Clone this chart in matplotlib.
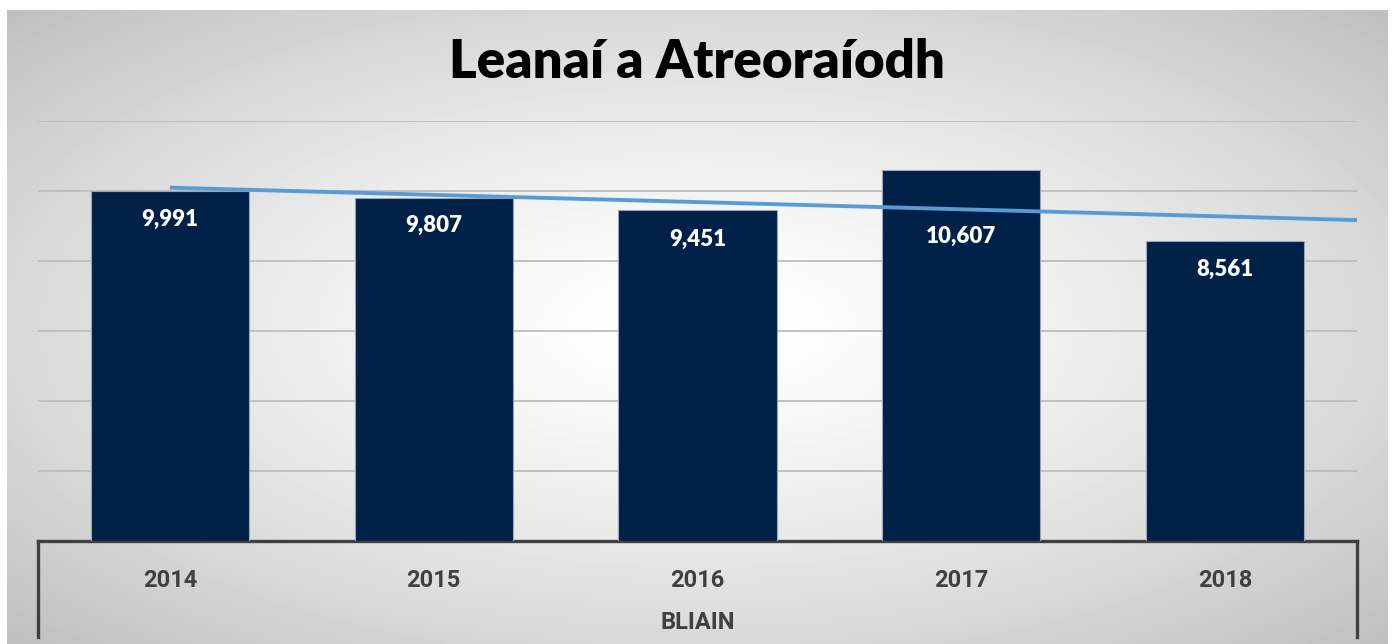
import numpy as np
import matplotlib
matplotlib.use("Agg")
import matplotlib.pyplot as plt
import matplotlib.transforms as mtransforms

# data
years = ["2014", "2015", "2016", "2017", "2018"]
referrals = [9991, 9807, 9451, 10607, 8561]
title = "Leanaí a Atreoraíodh"
xlabel = "BLIAIN"

W, H = 1392, 644
fig = plt.figure(figsize=(W / 100, H / 100), dpi=100)
fig.patch.set_facecolor("white")

# radial grey background of the chart area
bg = fig.add_axes([7 / W, 0, (1388 - 7) / W, 1 - 10 / H], zorder=0)
gx, gy = np.meshgrid(np.linspace(-1, 1, 400), np.linspace(-1, 1, 200))
r = np.sqrt(gx ** 2 + gy ** 2) / np.sqrt(2)
shade = 1.0 - 0.25 * r ** 1.4
bg.imshow(shade, cmap="gray", vmin=0, vmax=1, aspect="auto",
          extent=[0, 1, 0, 1], interpolation="bicubic")
bg.set_axis_off()

ax = fig.add_axes([38 / W, 1 - 541 / H, (1357 - 38) / W, (541 - 121) / H], zorder=1)
ax.patch.set_alpha(0)

x = np.arange(len(years))
bars = ax.bar(x, referrals, width=0.6, color="#002147", edgecolor="#9aa6b8",
              linewidth=0.8, zorder=3)

# labels sit inside the bar top; the 2017 one was pushed down below the trendline
label_drop = [20, 20, 21, 48, 20]
for xi, v, d in zip(x, referrals, label_drop):
    ax.annotate(f"{v:,}", (xi, v), xytext=(0, -d), textcoords="offset points",
                ha="center", va="center", color="white", fontsize=16,
                fontweight="heavy", family="Lato", zorder=5)

# linear trendline, extended half a period forward
k, b = np.polyfit(x, referrals, 1)
tx = np.array([x[0], x[-1] + 0.5])
ax.plot(tx, k * tx + b, color="#5b9bd5", lw=2.8, zorder=4, solid_capstyle="butt")

ax.set_xlim(-0.5, len(years) - 0.5)
ax.set_ylim(0, 12000)
ax.set_yticks(np.arange(2000, 12001, 2000))
ax.yaxis.grid(True, color="#bdbdbd", lw=1.3)
ax.set_axisbelow(True)
ax.tick_params(axis="y", left=False, labelleft=False)
ax.tick_params(axis="x", length=0, pad=20)
ax.set_xticks(x)
ax.set_xticklabels(years, fontsize=17, fontweight="bold", color="#404040",
                   family="Roboto")
ax.set_xlabel(xlabel, fontsize=17, fontweight="bold", color="#404040",
              family="Roboto", labelpad=14)

for s in ["top", "left", "right"]:
    ax.spines[s].set_visible(False)
ax.spines["bottom"].set_color("#404040")
ax.spines["bottom"].set_linewidth(2.4)

# outer category separators below the axis
trans = mtransforms.blended_transform_factory(ax.transData, ax.transAxes)
for xe in ax.get_xlim():
    ax.plot([xe, xe], [0, -96 / 420], color="#404040", lw=2.4,
            transform=trans, clip_on=False, zorder=5)

fig.text(697 / W, 1 - 63 / H, title, ha="center", va="center", fontsize=38,
         fontweight="heavy", family="Lato", color="black")

fig.savefig("out.png", dpi=100)
